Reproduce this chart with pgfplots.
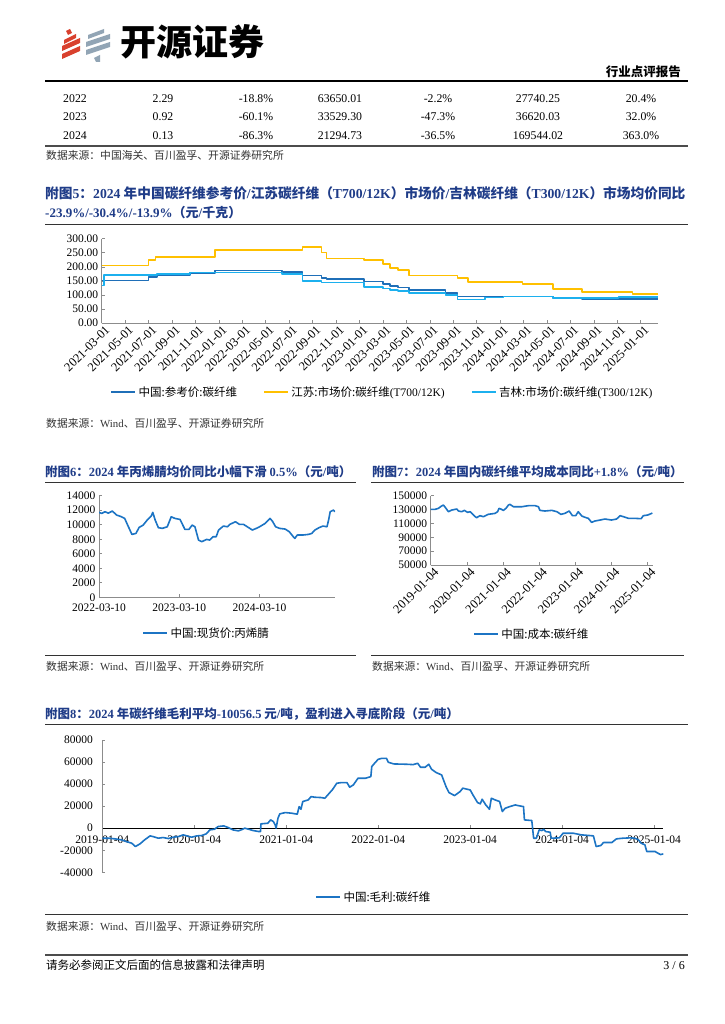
\documentclass[border=0pt]{standalone}
\usepackage{fontspec}
\setmainfont{Liberation Serif}
\newfontfamily\cjk{Noto Sans CJK SC}
\newfontfamily\lat{Liberation Serif}
\usepackage{pgfplots}
\pgfplotsset{compat=1.18}

\definecolor{navy}{HTML}{1F3C88}
\definecolor{lineblue}{HTML}{1C74C4}
\definecolor{darkb}{HTML}{1F6FB8}
\definecolor{lightb}{HTML}{1CB0EE}
\definecolor{gold}{HTML}{FFC000}
\definecolor{axgray}{HTML}{8C8C8C}
\definecolor{logored}{HTML}{D9412E}
\definecolor{logogray}{HTML}{92A5B5}
\newcommand\fs[1]{\fontsize{#1}{#1}\selectfont}

\pgfplotsset{
  rep/.style={
    scale only axis, axis lines*=left,
    axis line style={axgray, line width=0.7pt},
    tick style={axgray, line width=0.6pt},
    tick align=inside, major tick length=3pt,
    enlargelimits=false, scaled ticks=false,
    /pgf/number format/assume math mode=true,
    /pgf/number format/fixed,
    /pgf/number format/1000 sep={},
    ticklabel style={font=\lat\fs{11.5}, text=black},
    legend style={draw=none, fill=none, inner sep=0pt, font=\cjk\fs{11.5},
      legend cell align=left},
    legend image code/.code={\draw[##1, line width=2.4pt] (0pt,0pt) -- (24pt,0pt);},
  },
  ln/.style={line width=1.6pt, line join=round},
}

\begin{document}
\begin{tikzpicture}
\fill[white] (0pt,0pt) rectangle (724pt,-1024pt);
\useasboundingbox (0pt,0pt) rectangle (724pt,-1024pt);

\begin{scope}[x=1pt, y=-1pt]
% ---- header / logo
\fill[logored] (62,46)--(80,38)--(80,43)--(62,51)--cycle;
\fill[logored] (62,54)--(80,46)--(80,51)--(62,59)--cycle;
\fill[logored] (64,40)--(76,34)--(76,38)--(64,44)--cycle;
\fill[logored] (66,31)--(70,29)--(72,33)--(68,35)--cycle;
\fill[logogray] (86,42)--(110,34)--(110,39)--(86,47)--cycle;
\fill[logogray] (86,50)--(110,42)--(110,47)--(86,55)--cycle;
\fill[logogray] (88,35)--(104,29)--(104,33)--(88,39)--cycle;
\fill[logogray] (94,58)--(100,55)--(100,62)--(96,62)--cycle;
\node[anchor=base west, inner sep=0pt, font=\cjk\bfseries\fs{36}] at (120,56) {开源证券};
\node[anchor=base east, inner sep=0pt, font=\cjk\bfseries\fs{12.5}] at (681,77) {行业点评报告};
\draw[line width=1.5pt] (45,81) -- (688,81);

% ---- table tail
\begin{scope}[every node/.style={anchor=base, inner sep=0pt, font=\lat\fs{11.8}}]
\node[anchor=base west] at (63,103) {2022};
\node at (163,103) {2.29}; \node at (256,103) {-18.8\%}; \node at (340,103) {63650.01};
\node at (438,103) {-2.2\%}; \node at (538,103) {27740.25}; \node at (641,103) {20.4\%};
\node[anchor=base west] at (63,121) {2023};
\node at (163,121) {0.92}; \node at (256,121) {-60.1\%}; \node at (340,121) {33529.30};
\node at (438,121) {-47.3\%}; \node at (538,121) {36620.03}; \node at (641,121) {32.0\%};
\node[anchor=base west] at (63,140) {2024};
\node at (163,140) {0.13}; \node at (256,140) {-86.3\%}; \node at (340,140) {21294.73};
\node at (438,140) {-36.5\%}; \node at (538,140) {169544.02}; \node at (641,140) {363.0\%};
\end{scope}
\draw[line width=1.4pt, black!70] (45,146) -- (688,146);
\node[anchor=base west, inner sep=0pt, font=\cjk\fs{10.8}, text=black!80] at (46,160) {数据来源：中国海关、百川盈孚、开源证券研究所};

% ---- titles, rules, sources
\node[anchor=base west, inner sep=0pt, font=\cjk\bfseries\fs{13.7}, text=navy] at (45,199)
  {附图{\lat\bfseries 5}：{\lat\bfseries 2024} 年中国碳纤维参考价{\lat\bfseries /}江苏碳纤维（{\lat\bfseries T700/12K}）市场价{\lat\bfseries /}吉林碳纤维（{\lat\bfseries T300/12K}）市场均价同比};
\node[anchor=base west, inner sep=0pt, font=\cjk\bfseries\fs{13}, text=navy] at (45,218)
  {{\lat\bfseries -23.9\%/-30.4\%/-13.9\%}（元{\lat\bfseries /}千克）};
\draw[line width=0.8pt, black!80] (45,224) -- (688,224);
\node[anchor=base west, inner sep=0pt, font=\cjk\fs{10.8}, text=black!80] at (46,427) {数据来源：{\lat Wind}、百川盈孚、开源证券研究所};

\node[anchor=base west, inner sep=0pt, font=\cjk\bfseries\fs{12.5}, text=navy] at (45,476)
  {附图{\lat\bfseries 6}：{\lat\bfseries 2024} 年丙烯腈均价同比小幅下滑 {\lat\bfseries 0.5\%}（元{\lat\bfseries /}吨）};
\draw[line width=0.8pt, black!80] (45,482) -- (356,482);
\draw[line width=0.8pt, black!80] (45,655) -- (356,655);
\node[anchor=base west, inner sep=0pt, font=\cjk\fs{10.8}, text=black!80] at (46,670) {数据来源：{\lat Wind}、百川盈孚、开源证券研究所};

\node[anchor=base west, inner sep=0pt, font=\cjk\bfseries\fs{12.5}, text=navy] at (372,476)
  {附图{\lat\bfseries 7}：{\lat\bfseries 2024} 年国内碳纤维平均成本同比{\lat\bfseries +1.8\%}（元{\lat\bfseries /}吨）};
\draw[line width=0.8pt, black!80] (371,482) -- (684,482);
\draw[line width=0.8pt, black!80] (371,655) -- (684,655);
\node[anchor=base west, inner sep=0pt, font=\cjk\fs{10.8}, text=black!80] at (372,670) {数据来源：{\lat Wind}、百川盈孚、开源证券研究所};

\node[anchor=base west, inner sep=0pt, font=\cjk\bfseries\fs{12.5}, text=navy] at (45,718)
  {附图{\lat\bfseries 8}：{\lat\bfseries 2024} 年碳纤维毛利平均{\lat\bfseries -10056.5} 元{\lat\bfseries /}吨，盈利进入寻底阶段（元{\lat\bfseries /}吨）};
\draw[line width=0.8pt, black!80] (45,724) -- (688,724);
\draw[line width=0.8pt, black!80] (45,914) -- (688,914);
\node[anchor=base west, inner sep=0pt, font=\cjk\fs{10.8}, text=black!80] at (46,930) {数据来源：{\lat Wind}、百川盈孚、开源证券研究所};

% ---- footer
\draw[line width=1.5pt, black!70] (45,955) -- (688,955);
\node[anchor=base west, inner sep=0pt, font=\cjk\fs{11.5}] at (46,969) {请务必参阅正文后面的信息披露和法律声明};
\node[anchor=base east, inner sep=0pt, font=\lat\fs{12}] at (685,969) {3 / 6};
\end{scope}

% ---- figure 5
\begin{axis}[rep, at={(101.7pt,-323pt)}, anchor=south west,
  width=556.6pt, height=84.3pt,
  xmin=0, xmax=47.5, ymin=0, ymax=300,
  ytick={0,50,...,300},
  yticklabel style={/pgf/number format/.cd, fixed, fixed zerofill, precision=2},
  xtick={0,2,...,46},
  xticklabels={2021-03-01,2021-05-01,2021-07-01,2021-09-01,2021-11-01,
    2022-01-01,2022-03-01,2022-05-01,2022-07-01,2022-09-01,2022-11-01,
    2023-01-01,2023-03-01,2023-05-01,2023-07-01,2023-09-01,2023-11-01,
    2024-01-01,2024-03-01,2024-05-01,2024-07-01,2024-09-01,2024-11-01,
    2025-01-01},
  xticklabel style={rotate=45, anchor=north east, font=\lat\fs{12.5}, xshift=4pt},
  legend columns=3,
  legend style={at={(0.015,-0.82)}, anchor=west,
    /tikz/every even column/.append style={column sep=24pt}},
]
\addplot[ln, darkb, const plot] coordinates {
 (0,151.3) (3.99,163) (4.7,170) (7.55,177) (9.69,186.8) (15.4,182) (17.15,169)
 (18.75,159.6) (19.2,156) (22.4,147.8) (24.0,138.3) (24.6,132.4) (25.3,126.5)
 (26.24,117) (29.35,107.6) (30.37,94.6) (38.5,90) (41.0,85) (47.5,85)};
\addlegendentry{中国:参考价:碳纤维}
\addplot[ln, gold, const plot] coordinates {
 (0,204.5) (3.99,224.6) (4.6,235.2) (9.69,260) (17.15,270.7) (18.75,250.6)
 (19.2,229.3) (22.4,224.6) (24.0,210.4) (24.6,195) (25.3,189) (26.24,169)
 (30.37,159.6) (31.25,145.4) (35.9,139.5) (38.5,120.6) (41.0,111) (45.3,104) (47.5,104)};
\addlegendentry{江苏:市场价:碳纤维{\lat (T700/12K)}}
\addplot[ln, lightb, const plot] coordinates {
 (0,133.6) (0.2,170) (4.7,175) (7.55,179.7) (15.4,175) (17.15,150) (18.75,144)
 (22.4,127.7) (24.0,123) (24.6,118) (25.3,113.5) (26.24,107.6) (29.35,100.5)
 (30.37,84) (32.7,91) (34.3,94.6) (38.5,90) (44.1,92) (47.5,92)};
\addlegendentry{吉林:市场价:碳纤维{\lat (T300/12K)}}
\end{axis}

% ---- figure 6
\begin{axis}[rep, at={(99pt,-597.3pt)}, anchor=south west,
  width=236pt, height=101.6pt,
  xmin=0, xmax=2.94, ymin=0, ymax=14000,
  ytick={0,2000,...,14000},
  xtick={0,1,2}, xticklabels={2022-03-10,2023-03-10,2024-03-10},
  xticklabel style={font=\lat\fs{11.5}, yshift=-3pt},
  legend style={at={(0.182,-0.351)}, anchor=west},
]
\addplot[ln, lineblue] coordinates {
 (0,11700) (0.033,11560) (0.075,11790) (0.116,11600) (0.166,11880) (0.22,11330)
 (0.28,11100) (0.32,10870) (0.357,9950) (0.41,8670) (0.46,8800) (0.50,9630)
 (0.55,9950) (0.60,10640) (0.65,11190) (0.67,11700) (0.70,10640) (0.74,9590)
 (0.79,9500) (0.85,9720) (0.90,11100) (0.946,10870) (1.01,10730) (1.07,9360)
 (1.12,9360) (1.16,9950) (1.195,9720) (1.24,7890) (1.28,7660) (1.34,7980)
 (1.38,7890) (1.42,8350) (1.46,8350) (1.49,9270) (1.55,9820) (1.60,9720)
 (1.63,10050) (1.70,10410) (1.75,10050) (1.80,10050) (1.86,9630) (1.91,9270)
 (1.96,9500) (2.00,9720) (2.07,10180) (2.13,10870) (2.16,10500) (2.20,9720)
 (2.25,9500) (2.32,9400) (2.37,9040) (2.42,8350) (2.44,8120) (2.47,8580)
 (2.54,8580) (2.61,8670) (2.65,8800) (2.69,9270) (2.74,9590) (2.79,9820)
 (2.84,9720) (2.86,10640) (2.88,11790) (2.92,12020) (2.94,11790)};
\addlegendentry{中国:现货价:丙烯腈}
\end{axis}

% ---- figure 7
\begin{axis}[rep, at={(430.7pt,-565pt)}, anchor=south west,
  width=222pt, height=69.3pt,
  xmin=2019, xmax=2025.14, ymin=50000, ymax=150000,
  ytick={50000,70000,...,150000},
  xtick={2019,2020,...,2025},
  xticklabels={2019-01-04,2020-01-04,2021-01-04,2022-01-04,2023-01-04,2024-01-04,2025-01-04},
  xticklabel style={rotate=45, anchor=north east, font=\lat\fs{12.5}, xshift=4pt},
  legend style={at={(0.19,-0.996)}, anchor=west},
]
\addplot[ln, lineblue] coordinates {
 (2019.00,130290) (2019.12,130290) (2019.21,131700) (2019.30,135100) (2019.35,136500)
 (2019.41,132700) (2019.49,126900) (2019.58,129300) (2019.72,130770) (2019.77,127900)
 (2019.86,126900) (2019.93,128850) (2020.02,125960) (2020.09,126900) (2020.21,120670)
 (2020.27,118270) (2020.36,121150) (2020.46,119700) (2020.59,123100) (2020.78,124500)
 (2020.85,126900) (2020.89,131700) (2020.94,130770) (2021.01,128850) (2021.08,131700)
 (2021.15,136500) (2021.19,137500) (2021.29,134100) (2021.52,134100) (2021.70,135600)
 (2021.89,135600) (2021.98,134100) (2022.02,128850) (2022.16,127900) (2022.35,128850)
 (2022.49,126900) (2022.60,123100) (2022.71,124500) (2022.83,127900) (2022.92,121150)
 (2023.01,121150) (2023.08,126900) (2023.18,120670) (2023.27,118750) (2023.36,117300)
 (2023.45,111540) (2023.54,113460) (2023.64,114420) (2023.82,116350) (2024.00,114900)
 (2024.14,116350) (2024.24,121150) (2024.33,119700) (2024.47,117300) (2024.65,117300)
 (2024.82,116830) (2024.88,121150) (2025.00,122100) (2025.09,124000) (2025.13,125000)};
\addlegendentry{中国:成本:碳纤维}
\end{axis}

% ---- figure 8
\begin{axis}[rep, at={(102.3pt,-872.3pt)}, anchor=south west,
  width=561pt, height=132.3pt,
  axis x line*=middle, x axis line style={black, line width=0.8pt},
  hide obscured x ticks=false, hide obscured y ticks=false,
  xmin=2019, xmax=2025.1, ymin=-40000, ymax=80000,
  ytick={-40000,-20000,...,80000},
  yticklabel style={xshift=-6pt},
  xtick={2019,2020,...,2025},
  xticklabels={2019-01-04,2020-01-04,2021-01-04,2022-01-04,2023-01-04,2024-01-04,2025-01-04},
  xticklabel style={font=\lat\fs{11.5}, yshift=-4pt},
  legend style={at={(0.379,-0.187)}, anchor=west},
]
\addplot[ln, lineblue] coordinates {
 (2019.00,-9060) (2019.07,-9060) (2019.14,-9670) (2019.21,-10570) (2019.26,-12080)
 (2019.32,-13600) (2019.36,-16600) (2019.41,-14200) (2019.46,-10570) (2019.52,-6950)
 (2019.55,-7550) (2019.61,-9060) (2019.66,-8460) (2019.72,-9370) (2019.77,-8160)
 (2019.83,-7550) (2019.88,-6040) (2019.92,-6950) (2019.97,-8160) (2020.03,-6950)
 (2020.08,-6650) (2020.13,-5140) (2020.17,-1510) (2020.22,-900) (2020.26,1510)
 (2020.32,2110) (2020.37,600) (2020.42,-1510) (2020.48,-2420) (2020.51,-1510)
 (2020.55,0) (2020.59,-900) (2020.64,-2110) (2020.70,-3020) (2020.72,-3020)
 (2020.725,3930) (2020.80,4530) (2020.83,7550) (2020.86,6040) (2020.88,3020)
 (2020.89,0) (2020.91,9060) (2020.93,13000) (2020.99,14200) (2021.06,13600)
 (2021.12,12700) (2021.14,19600) (2021.16,17200) (2021.18,24200) (2021.24,25700)
 (2021.27,28700) (2021.31,28100) (2021.38,27800) (2021.42,27200) (2021.49,33800)
 (2021.50,34700) (2021.55,40800) (2021.60,41400) (2021.66,41400) (2021.69,37200)
 (2021.73,39300) (2021.78,45300) (2021.86,45300) (2021.92,46800) (2021.93,55900)
 (2021.96,58900) (2022.00,62500) (2022.04,63400) (2022.09,63400) (2022.11,59800)
 (2022.17,58300) (2022.31,58000) (2022.38,57700) (2022.43,58900) (2022.46,55300)
 (2022.51,55300) (2022.55,58000) (2022.58,53500) (2022.63,50500) (2022.69,48300)
 (2022.71,43800) (2022.74,37200) (2022.77,32300) (2022.83,29600) (2022.89,33200)
 (2022.92,36300) (2023.00,34700) (2023.03,30200) (2023.08,23300) (2023.11,22100)
 (2023.13,26300) (2023.17,21100) (2023.21,17200) (2023.23,27200) (2023.27,25700)
 (2023.32,24200) (2023.35,15100) (2023.38,18100) (2023.43,19600) (2023.49,21100)
 (2023.54,20200) (2023.58,19600) (2023.59,7550) (2023.67,6950) (2023.69,-9060)
 (2023.72,-9060) (2023.75,-1510) (2023.78,-2110) (2023.80,-900) (2023.82,-3020)
 (2023.87,-3620) (2023.88,-9060) (2023.97,-8760) (2024.01,-4530) (2024.12,-4530)
 (2024.21,-6040) (2024.34,-6950) (2024.37,-16600) (2024.42,-15700) (2024.45,-13000)
 (2024.54,-13000) (2024.59,-9670) (2024.66,-9060) (2024.74,-8760) (2024.79,-9060)
 (2024.83,-10570) (2024.86,-13600) (2024.90,-15100) (2024.92,-21100) (2025.01,-21100)
 (2025.04,-22600) (2025.07,-23900) (2025.10,-23300)};
\addlegendentry{中国:毛利:碳纤维}
\end{axis}
\end{tikzpicture}
\end{document}
